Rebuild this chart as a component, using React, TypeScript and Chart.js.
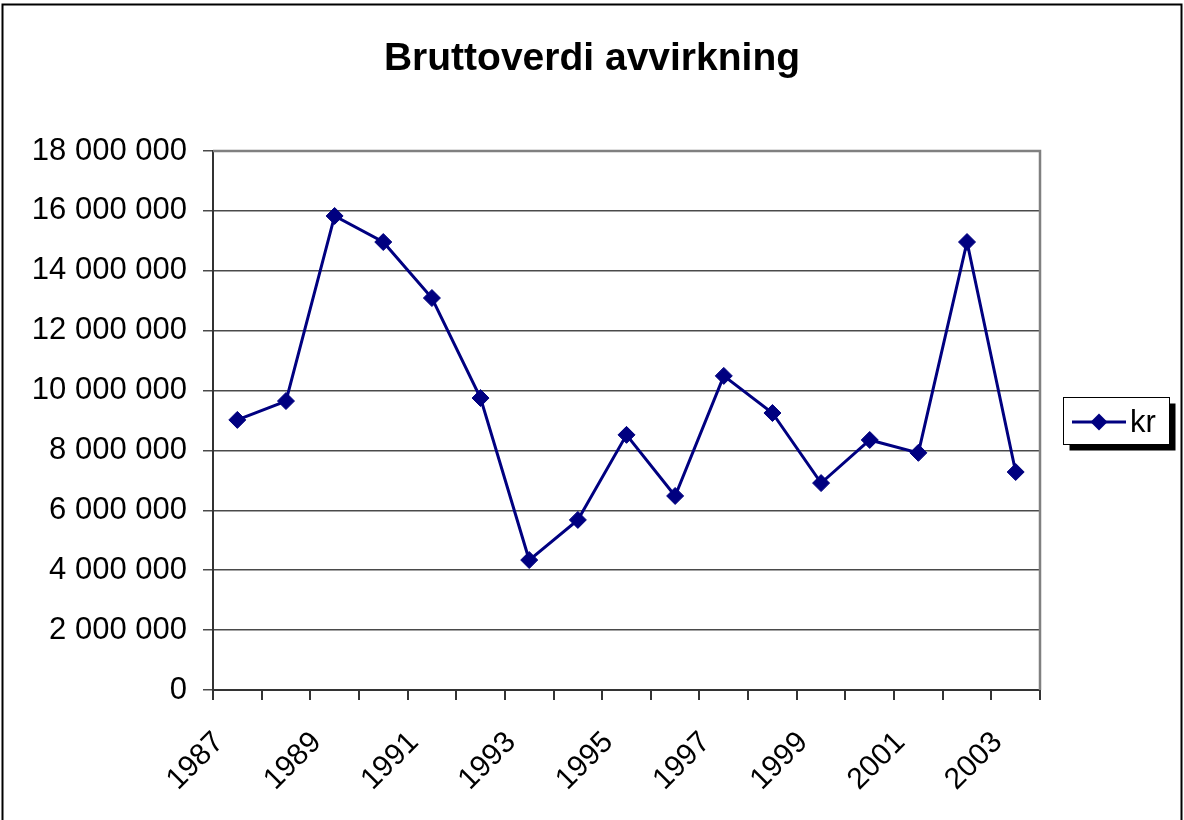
import React, { useEffect, useRef } from "react";
import { Chart, registerables } from "chart.js";

Chart.register(...registerables);

const years = ["1987","1988","1989","1990","1991","1992","1993","1994","1995","1996","1997","1998","1999","2000","2001","2002","2003"];
const krValues = [9020000, 9650000, 15830000, 14960000, 13090000, 9750000, 4340000, 5680000, 8520000, 6480000, 10490000, 9250000, 6910000, 8350000, 7920000, 14960000, 7280000];
const seriesLabel = "kr";
const titleText = "Bruttoverdi avvirkning";
const yMin = 0;
const yMax = 18000000;
const yStep = 2000000;

const FONT = "'Liberation Sans', Arial, sans-serif";
const NAVY = "#000080";

function fmt(v: number): string {
  return String(Math.round(v)).replace(/\B(?=(\d{3})+(?!\d))/g, " ");
}

const framePlugin = {
  id: "frame",
  afterDraw(chart: any) {
    const ctx = chart.ctx;
    const a = chart.chartArea;
    ctx.save();
    ctx.strokeStyle = "#808080";
    ctx.lineWidth = 2.5;
    ctx.beginPath();
    ctx.moveTo(a.left, a.top);
    ctx.lineTo(a.right, a.top);
    ctx.lineTo(a.right, a.bottom);
    ctx.stroke();
    ctx.strokeStyle = "#000";
    ctx.lineWidth = 2;
    ctx.strokeRect(2.5, 4.5, 1179, 840);
    const lx = 1063.5, ly = 397.5, lw = 106, lh = 47;
    ctx.fillStyle = "#000";
    ctx.fillRect(lx + 6, ly + 6, lw, lh);
    ctx.fillStyle = "#fff";
    ctx.fillRect(lx, ly, lw, lh);
    ctx.strokeStyle = "#000";
    ctx.lineWidth = 1;
    ctx.strokeRect(lx, ly, lw, lh);
    const cy = 422;
    ctx.strokeStyle = NAVY;
    ctx.lineWidth = 3;
    ctx.beginPath();
    ctx.moveTo(1072, cy);
    ctx.lineTo(1126, cy);
    ctx.stroke();
    ctx.fillStyle = NAVY;
    ctx.beginPath();
    ctx.moveTo(1099, cy - 8.5);
    ctx.lineTo(1107.5, cy);
    ctx.lineTo(1099, cy + 8.5);
    ctx.lineTo(1090.5, cy);
    ctx.closePath();
    ctx.fill();
    ctx.fillStyle = "#000";
    ctx.font = `31px ${FONT}`;
    ctx.textBaseline = "middle";
    ctx.textAlign = "left";
    ctx.fillText(chart.data.datasets[0].label, 1130, cy + 1);
    ctx.restore();
  },
};

export default function App() {
  const ref = useRef<HTMLCanvasElement | null>(null);
  useEffect(() => {
    if (!ref.current) return;
    const chart = new Chart(ref.current, {
      type: "line",
      data: {
        labels: years,
        datasets: [
          {
            label: seriesLabel,
            data: krValues,
            borderColor: NAVY,
            backgroundColor: NAVY,
            borderWidth: 3,
            pointStyle: "rectRot",
            pointRadius: 8.5,
            pointBorderWidth: 1,
            pointBackgroundColor: NAVY,
            pointBorderColor: NAVY,
            tension: 0,
          },
        ],
      },
      options: {
        responsive: false,
        animation: false,
        devicePixelRatio: 1,
        layout: { padding: { top: 0, left: 0, right: 0, bottom: 0 } },
        plugins: {
          legend: { display: false },
          tooltip: { enabled: false },
          title: {
            display: true,
            text: titleText,
            color: "#000",
            font: { family: FONT, size: 39, weight: "bold" },
            padding: { top: 36, bottom: 68.2 },
          },
        },
        scales: {
          x: {
            type: "category",
            offset: true,
            afterFit(scale: any) {
              scale.height = 130;
            },
            grid: {
              display: true,
              offset: true,
              drawOnChartArea: false,
              drawTicks: true,
              tickLength: 10,
              color: "#333",
              lineWidth: 2,
            },
            border: { display: true, color: "#333", width: 2 },
            ticks: {
              autoSkip: false,
              minRotation: 45,
              maxRotation: 45,
              padding: 25,
              labelOffset: -18,
              color: "#000",
              font: { family: FONT, size: 30 },
              callback: (_v: any, i: number) => (i % 2 === 0 ? years[i] : ""),
            },
          },
          y: {
            min: yMin,
            max: yMax,
            afterFit(scale: any) {
              scale.width = 213;
            },
            grid: {
              color: "#4a4a4a",
              lineWidth: 1.5,
              tickLength: 10,
              drawTicks: true,
            },
            border: { display: true, color: "#333", width: 2 },
            ticks: {
              stepSize: yStep,
              padding: 16,
              color: "#000",
              font: { family: FONT, size: 31 },
              callback: (v: any) => fmt(Number(v)),
            },
          },
          yRight: {
            position: "right",
            display: true,
            afterFit(scale: any) {
              scale.width = 144;
            },
            grid: { display: false, drawOnChartArea: false },
            border: { display: false },
            ticks: { display: false },
          },
        },
      },
      plugins: [framePlugin],
    } as any);
    return () => chart.destroy();
  }, []);
  return (
    <div style={{ position: "fixed", left: 0, top: 0, width: 1184, height: 820, background: "#fff" }}>
      <canvas ref={ref} width={1184} height={820} />
    </div>
  );
}
